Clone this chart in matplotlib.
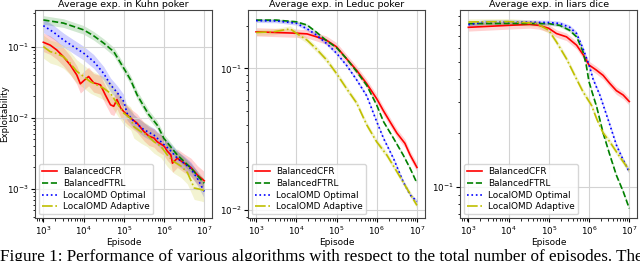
import numpy as np
import matplotlib
matplotlib.use("Agg")
import matplotlib.pyplot as plt

# ---------------- data (log10 episode, exploitability) ----------------
labels = ["BalancedCFR", "BalancedFTRL", "LocalOMD Optimal", "LocalOMD Adaptive"]
titles = ["Average exp. in Kuhn poker", "Average exp. in Leduc poker", "Average exp. in liars dice"]

kuhn_cfr_lx = [3, 3.17, 3.33, 3.5, 3.67, 3.83, 3.92, 4.0, 4.125, 4.25, 4.42, 4.54, 4.67, 4.75, 4.83, 4.92,
               5.0, 5.08, 5.17, 5.33, 5.5, 5.625, 5.75, 5.83, 6.0, 6.08, 6.17, 6.21, 6.33, 6.5, 6.67, 6.83, 7.0]
kuhn_cfr_y = [0.115, 0.105, 0.09, 0.072, 0.055, 0.040, 0.030, 0.033, 0.038, 0.031, 0.029, 0.021, 0.0152, 0.0145,
              0.0180, 0.0138, 0.0122, 0.011, 0.0099, 0.0084, 0.0064, 0.0055, 0.0052, 0.0046, 0.0040, 0.0034,
              0.0030, 0.0023, 0.0027, 0.0023, 0.0020, 0.00157, 0.00130]
kuhn_ftrl_lx = [3, 3.5, 4, 4.25, 4.5, 4.75, 5, 5.17, 5.33, 5.5, 5.625, 5.83, 6.0, 6.33, 6.67, 7.0]
kuhn_ftrl_y = [0.237, 0.214, 0.172, 0.142, 0.112, 0.085, 0.0496, 0.034, 0.021, 0.0144, 0.011, 0.0079, 0.0051,
               0.0030, 0.00196, 0.0012]
kuhn_omd_lx = [3, 3.25, 3.5, 3.75, 4, 4.25, 4.5, 4.67, 4.83, 5.0, 5.08, 5.25, 5.5, 5.75, 6.0, 6.17, 6.33, 6.5,
               6.67, 6.83, 7.0]
kuhn_omd_y = [0.197, 0.16, 0.124, 0.1, 0.081, 0.062, 0.042, 0.029, 0.0228, 0.0169, 0.0116, 0.0089, 0.0068,
              0.0057, 0.0042, 0.0034, 0.0027, 0.0023, 0.0019, 0.0014, 0.00092]
kuhn_ada_lx = [3, 3.17, 3.33, 3.5, 3.67, 3.83, 4.0, 4.17, 4.33, 4.5, 4.67, 4.83, 4.92, 5.0, 5.17, 5.25, 5.42,
               5.58, 5.75, 5.92, 6.08, 6.25, 6.42, 6.58, 6.75, 6.92, 7.0]
kuhn_ada_y = [0.1, 0.085, 0.08, 0.072, 0.058, 0.045, 0.038, 0.032, 0.029, 0.026, 0.022, 0.016, 0.0135, 0.0116,
              0.0098, 0.0075, 0.0064, 0.0057, 0.0046, 0.0040, 0.0030, 0.0024, 0.0021, 0.0017, 0.00103,
              0.00098, 0.00095]

leduc_cfr_lx = [3, 3.5, 4, 4.27, 4.5, 4.75, 5, 5.25, 5.5, 5.75, 6.0, 6.17, 6.33, 6.5, 6.7, 6.83, 7.0]
leduc_cfr_y = [0.181, 0.179, 0.177, 0.175, 0.167, 0.158, 0.142, 0.117, 0.097, 0.078, 0.061, 0.050, 0.042,
               0.035, 0.0296, 0.0245, 0.020]
leduc_ftrl_lx = [3, 3.5, 4, 4.27, 4.5, 4.75, 5, 5.25, 5.5, 5.75, 6.0, 6.17, 6.42, 6.66, 6.83, 7.0]
leduc_ftrl_y = [0.219, 0.219, 0.213, 0.202, 0.18, 0.157, 0.14, 0.117, 0.095, 0.076, 0.055, 0.042, 0.032,
                0.0244, 0.0197, 0.0155]
leduc_omd_lx = [3, 3.5, 4, 4.27, 4.5, 4.75, 5, 5.25, 5.5, 5.75, 6.0, 6.17, 6.42, 6.66, 6.83, 7.0]
leduc_omd_y = [0.217, 0.216, 0.208, 0.19, 0.172, 0.15, 0.128, 0.105, 0.083, 0.064, 0.042, 0.032, 0.023,
               0.0158, 0.0128, 0.0115]
leduc_ada_lx = [3, 3.43, 3.85, 4, 4.27, 4.5, 4.75, 5, 5.25, 5.5, 5.75, 6.0, 6.25, 6.5, 6.75, 7.0]
leduc_ada_y = [0.179, 0.181, 0.19, 0.177, 0.158, 0.137, 0.115, 0.092, 0.072, 0.057, 0.040, 0.0303, 0.0245,
               0.0187, 0.0142, 0.0108]

liars_cfr_lx = [3, 4, 4.53, 4.75, 5, 5.19, 5.44, 5.69, 5.85, 6.0, 6.18, 6.35, 6.51, 6.68, 6.85, 7.0]
liars_cfr_y = [0.78, 0.80, 0.81, 0.80, 0.77, 0.72, 0.69, 0.62, 0.55, 0.48, 0.45, 0.42, 0.38, 0.345, 0.326, 0.30]
liars_ftrl_lx = [3, 4, 5, 5.27, 5.52, 5.69, 5.85, 5.93, 6.0, 6.1, 6.19, 6.35, 6.52, 6.68, 6.85, 7.0]
liars_ftrl_y = [0.818, 0.82, 0.818, 0.80, 0.75, 0.69, 0.57, 0.48, 0.386, 0.325, 0.28, 0.20, 0.150, 0.116,
                0.094, 0.0757]
liars_omd_lx = [3, 3.4, 4, 5, 5.27, 5.52, 5.69, 5.85, 6.0, 6.1, 6.27, 6.39, 6.52, 6.68, 6.85, 7.0]
liars_omd_y = [0.807, 0.836, 0.836, 0.83, 0.82, 0.78, 0.72, 0.593, 0.48, 0.40, 0.325, 0.27, 0.221, 0.171,
               0.141, 0.121]
liars_ada_lx = [3, 4, 4.7, 5, 5.19, 5.44, 5.69, 5.85, 6.06, 6.19, 6.35, 6.52, 6.68, 6.85, 7.0]
liars_ada_y = [0.836, 0.84, 0.82, 0.75, 0.646, 0.52, 0.40, 0.34, 0.286, 0.24, 0.20, 0.178, 0.157, 0.138, 0.124]

# multiplicative half-width of the shaded bands
kuhn_spread = [1.35, 1.15, 1.25, 1.45]
leduc_spread = [1.07, 1.02, 1.03, 1.05]
liars_spread = [1.05, 1.02, 1.03, 1.04]

ylims = [(3.9e-4, 0.327), (0.0088, 0.258), (0.0669, 0.975)]
caption = "Figure 1: Performance of various algorithms with respect to the total number of episodes. The"

# ---------------- styles ----------------
colors = ["red", "green", "blue", "y"]
styles = ["-", "--", ":", "-."]

panels = [
    [(kuhn_cfr_lx, kuhn_cfr_y), (kuhn_ftrl_lx, kuhn_ftrl_y), (kuhn_omd_lx, kuhn_omd_y), (kuhn_ada_lx, kuhn_ada_y)],
    [(leduc_cfr_lx, leduc_cfr_y), (leduc_ftrl_lx, leduc_ftrl_y), (leduc_omd_lx, leduc_omd_y), (leduc_ada_lx, leduc_ada_y)],
    [(liars_cfr_lx, liars_cfr_y), (liars_ftrl_lx, liars_ftrl_y), (liars_omd_lx, liars_omd_y), (liars_ada_lx, liars_ada_y)],
]
spreads = [kuhn_spread, leduc_spread, liars_spread]

fig = plt.figure(figsize=(6.4, 2.61), dpi=100)
lefts = [35.3 / 640, 248 / 640, 460.3 / 640]
w = 177 / 640
b = 1 - 218 / 261
h = 208 / 261

for i in range(3):
    ax = fig.add_axes([lefts[i], b, w, h])
    for j in range(4):
        lx, y = panels[i][j]
        x = 10 ** np.asarray(lx, dtype=float)
        y = np.asarray(y, dtype=float)
        s = spreads[i][j]
        ax.fill_between(x, y / s, y * s, color=colors[j], alpha=0.18, linewidth=0)
        ax.plot(x, y, color=colors[j], linestyle=styles[j], linewidth=1.2, label=labels[j])
    ax.set_xscale("log")
    ax.set_yscale("log")
    ax.set_xlim(10 ** 2.8, 10 ** 7.2)
    ax.set_ylim(*ylims[i])
    ax.grid(True, which="major", color="#d3d3d3", linewidth=0.8)
    ax.set_title(titles[i], fontsize=6.8, pad=2)
    ax.set_xlabel("Episode", fontsize=6.5, labelpad=1)
    if i == 0:
        ax.set_ylabel("Exploitability", fontsize=6.3)
        ax.yaxis.set_label_coords(-0.148, 0.5)
    ax.tick_params(axis="both", which="major", labelsize=6.3, length=3, pad=1.5)
    ax.tick_params(axis="both", which="minor", length=1.8)
    for sp in ax.spines.values():
        sp.set_color("#444444")
        sp.set_linewidth(0.8)
    ax.legend(loc="lower left", fontsize=6.4, handlelength=1.7, handletextpad=0.7, borderpad=0.35,
              labelspacing=0.3, framealpha=0.8, edgecolor="#cccccc", fancybox=True,
              borderaxespad=0.4)

fig.text(0.0, 1 - 249 / 261, caption, fontsize=12.3, family="Liberation Serif", va="top", ha="left")

fig.savefig("out.png", dpi=100)
